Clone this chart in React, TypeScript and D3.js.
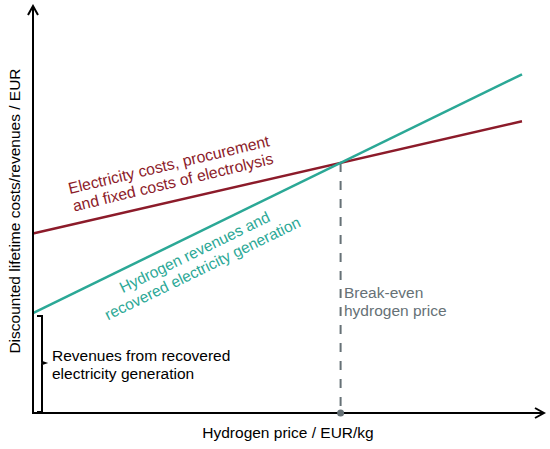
import React from "react";
import * as d3 from "d3";

// abstract units: price (x) vs discounted lifetime costs/revenues (y)
const prices = [0, 10];
const costValues = [4.4, 7.15];
const revenueValues = [2.45, 8.3];

const width = 550;
const height = 449;
const left = 33;
const bottom = 413;

const xScale = d3.scaleLinear().domain([0, 10]).range([left, 522]);
const yScale = d3.scaleLinear().domain([0, 10]).range([bottom, 5]);

// break-even = where both lines meet
const slopeC = (costValues[1] - costValues[0]) / (prices[1] - prices[0]);
const slopeR = (revenueValues[1] - revenueValues[0]) / (prices[1] - prices[0]);
const breakEven = (costValues[0] - revenueValues[0]) / (slopeR - slopeC);
const breakEvenY = costValues[0] + slopeC * breakEven;

const line = d3
  .line<[number, number]>()
  .x((d) => xScale(d[0]))
  .y((d) => yScale(d[1]));

const font = "Liberation Sans, Arial, sans-serif";
const red = "#8c1b2a";
const teal = "#2ba896";
const grey = "#667176";

const App = () => {
  const costPts = prices.map((p, i) => [p, costValues[i]] as [number, number]);
  const revPts = prices.map((p, i) => [p, revenueValues[i]] as [number, number]);
  const bx = xScale(breakEven);
  const by = yScale(breakEvenY);
  const r0 = yScale(revenueValues[0]);

  return (
    <svg
      width={width}
      height={height}
      style={{ position: "absolute", left: 0, top: 0 }}
      fontFamily={font}
    >
      <defs>
        <marker
          id="arr"
          viewBox="0 0 12 12"
          refX="10"
          refY="6"
          markerWidth="12"
          markerHeight="12"
          markerUnits="userSpaceOnUse"
          orient="auto"
        >
          <path d="M1,1 L10,6 L1,11" fill="none" stroke="#000" strokeWidth="2" />
        </marker>
      </defs>

      {/* break-even dashed line */}
      <line
        x1={bx}
        x2={bx}
        y1={by}
        y2={bottom}
        stroke={grey}
        strokeWidth={2}
        strokeDasharray="9 9"
      />

      <path d={line(costPts) ?? ""} fill="none" stroke={red} strokeWidth={2.5} />
      <path d={line(revPts) ?? ""} fill="none" stroke={teal} strokeWidth={2.5} />

      {/* axes */}
      <line x1={left} x2={left} y1={bottom + 1} y2={6} stroke="#000" strokeWidth={2} markerEnd="url(#arr)" />
      <line x1={left - 1} x2={544} y1={bottom} y2={bottom} stroke="#000" strokeWidth={2} markerEnd="url(#arr)" />
      <circle cx={bx} cy={bottom} r={3.5} fill={grey} />

      {/* bracket */}
      <path
        d={`M37,${r0 + 3} H42 V${(r0 + bottom) / 2 - 1} L45,${(r0 + bottom) / 2} L42,${(r0 + bottom) / 2 + 1} V${bottom - 1} H37`}
        fill="none"
        stroke="#000"
        strokeWidth={2}
      />

      <text
        transform="translate(20,211) rotate(-90)"
        textAnchor="middle"
        fontSize={15.5}
        fill="#000"
      >
        Discounted lifetime costs/revenues / EUR
      </text>
      <text x={288} y={438} textAnchor="middle" fontSize={15.5} fill="#000">
        Hydrogen price / EUR/kg
      </text>

      <g transform="translate(170,170) rotate(-13.5)" fill={red} fontSize={15.8} textAnchor="middle">
        <text x={0} y={0}>Electricity costs, procurement</text>
        <text x={0} y={18}>and fixed costs of electrolysis</text>
      </g>

      <g transform="translate(197,257) rotate(-26)" fill={teal} fontSize={15.5} textAnchor="middle">
        <text x={0} y={0}>Hydrogen revenues and</text>
        <text x={0} y={18}>recovered electricity generation</text>
      </g>

      <g fill={grey} fontSize={15.5}>
        <text x={344} y={298}>Break-even</text>
        <text x={344} y={316}>hydrogen price</text>
      </g>

      <g fill="#000" fontSize={15.5}>
        <text x={52} y={361}>Revenues from recovered</text>
        <text x={52} y={379}>electricity generation</text>
      </g>
    </svg>
  );
};

export default App;
